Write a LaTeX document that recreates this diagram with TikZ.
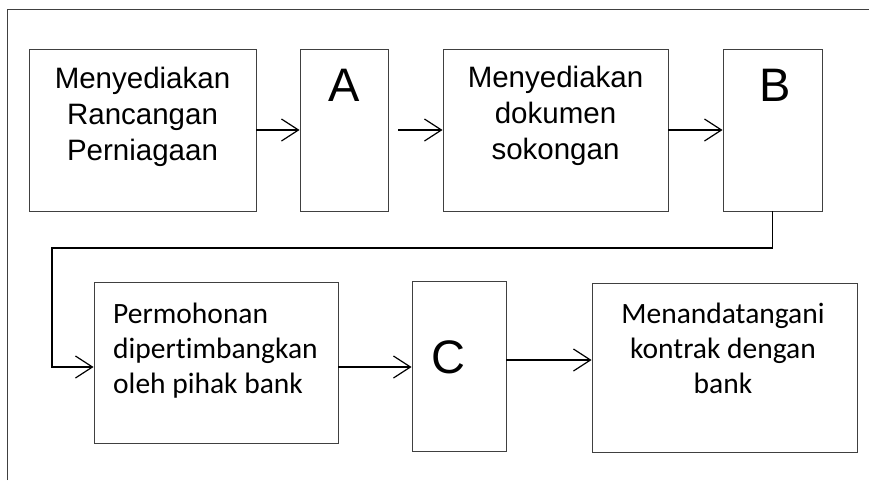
\documentclass[tikz,border=0pt]{standalone}
\usepackage{fontspec}
\usetikzlibrary{arrows.meta,positioning}
\newfontfamily\arialfont{Liberation Sans}
\newfontfamily\calibrifont[Ligatures=NoCommon]{Carlito}
\tikzset{
  box/.style={draw=black!75,line width=0.9pt,inner sep=0pt,minimum height=162pt},
  txt/.style={inner sep=0pt,align=center,font=\arialfont\fontsize{29.5}{36}\selectfont},
  ltr/.style={inner sep=0pt,font=\arialfont\fontsize{47}{56}\selectfont},
  ctxt/.style={inner sep=0pt,font=\calibrifont\fontsize{29.5}{35}\selectfont},
  flow/.style={-{Straight Barb[length=17pt,width=22pt]},line width=1.2pt}
}

\begin{document}
\begin{tikzpicture}[x=1pt,y=-1pt]
\useasboundingbox (0,0) rectangle (869,480);
\draw[black!75,line width=0.9pt] (7,480) |- (869,9);
%
       \node [box,minimum width=227pt] at (142.5,130) (plan) {};
          \node [box,minimum width=88pt] at (344,130) (A) {};
             \node [box,minimum width=225pt] at (555.5,130) (docs) {};
                \node [box,minimum width=99pt] at (772.5,130) (B) {};
                  \node [box,minimum width=244pt,minimum height=161pt] at (216,362.5) (apply) {};
                   \node [box,minimum width=94pt,minimum height=170pt] at (459,366) (C) {};
                    \node [box,minimum width=265pt,minimum height=169pt] at (724.5,367.5) (sign) {};
%
\node [txt,anchor=north] at (142.5,67) (plan text) {Menyediakan\\Rancangan\\Perniagaan};
\node [ltr,anchor=north] at (344,69) (A text) {A};
\node [txt,anchor=north] at (555.5,66) (docs text) {Menyediakan\\dokumen\\sokongan};
\node [ltr,anchor=north] at (775,69) (B text) {B};
\node [ctxt,align=left,anchor=north west] at (113,303) (apply text) {Permohonan\\dipertimbangkan\\oleh pihak bank};
\node [ltr,anchor=north] at (448,340) (C text) {C};
\node [ctxt,align=center,anchor=north] at (723,303) (sign text) {Menandatangani\\kontrak dengan\\bank};
%
\coordinate (turn) at (52,248);
%
\path[flow] (plan) edge (A);
\path[flow,shorten <=10pt] (A) edge (docs);
\path[flow] (docs) edge (B);
\draw[flow] (B.south) |- (turn) |- ([yshift=-4.5pt]apply.west);
\path[flow] ([yshift=-4.5pt]apply.east) edge ([yshift=-4.5pt]apply.east -| C.west);
\path[flow] ([yshift=6pt]C.east) edge ([yshift=6pt]C.east -| sign.west);

\end{tikzpicture}
\end{document}
